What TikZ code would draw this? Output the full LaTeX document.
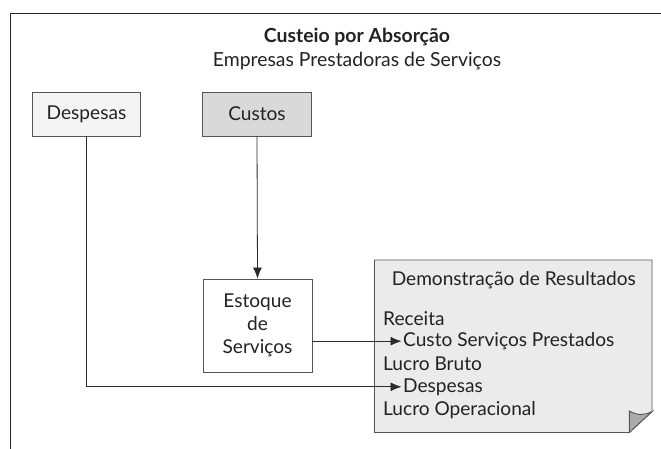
\documentclass[tikz,border=0pt]{standalone}
\usepackage{fontspec}
\setmainfont{Lato}
\usetikzlibrary{arrows.meta}
\definecolor{edge}{HTML}{555555}
\definecolor{lineC}{HTML}{2B2B2B}
\definecolor{lightF}{HTML}{F4F4F4}
\definecolor{custF}{HTML}{D9D9D9}
\definecolor{docF}{HTML}{EBEBEB}
\definecolor{foldF}{HTML}{AAAAAA}
\definecolor{txt}{HTML}{222222}
\newcommand{\dfont}{\fontsize{19.1}{23}\selectfont}
\newcommand{\tfont}{\fontsize{19.4}{23}\selectfont}
\tikzset{
  box/.style={draw=edge, line width=0.9pt, inner sep=0pt, align=center, text=txt, font=\dfont},
  doctext/.style={inner sep=0pt, anchor=base west, text=txt, font=\dfont},
  ttext/.style={inner sep=0pt, anchor=base, text=txt},
  conn/.style={draw=lineC, line width=0.8pt},
  arr/.style={conn, -{Latex[length=11pt,width=9pt]}},
}
\begin{document}
\begin{tikzpicture}[x=1pt,y=-1pt]
\useasboundingbox (0,0) rectangle (661,448);
% frame
\draw[line width=1.8pt, draw=black!85] (10.5,449) -- (10.5,13.5) -- (662,13.5);
% title
\node[ttext, font=\bfseries\tfont] (title) at (357,42.7) {Custeio por Absorção};
\node[ttext, font=\tfont] (subtitle) at (357,66.7) {Empresas Prestadoras de Serviços};
% boxes
\node[box, fill=lightF, minimum width=108pt, minimum height=44pt] (desp) at (86.5,114) {Despesas};
\node[box, fill=custF, minimum width=109pt, minimum height=44pt] (cust) at (257,114) {Custos};
\node[box, fill=white, minimum width=109pt, minimum height=93pt] (est) at (257.5,325.5) {Estoque\\de\\Serviços};
% document
\draw[draw=edge, line width=0.9pt, fill=docF] (374.5,260) -- (652,260) -- (652,411.5) -- (629.3,432.5) -- (374.5,432.5) -- cycle;
\draw[draw=edge, line width=0.9pt, fill=foldF] (629.3,432.5) -- (629.3,411) .. controls (637,415.5) and (645,415.5) .. (652,411.5) -- cycle;
\node[ttext, font=\dfont] (dtitle) at (513.8,285) {Demonstração de Resultados};
\node[doctext] (rec) at (383,325) {Receita};
\node[doctext] (csp) at (403,346.5) {Custo Serviços Prestados};
\node[doctext] (lb) at (383,370) {Lucro Bruto};
\node[doctext] (dsp) at (403,392) {Despesas};
\node[doctext] (lo) at (383,415) {Lucro Operacional};
% connectors
\draw[arr] (cust.south) -- (est.north);
\draw[arr] (est.east |- csp.west) -- ([xshift=-1.5pt]csp.west);
\draw[arr] (desp.south) |- ([xshift=-1.5pt]dsp.west);
\end{tikzpicture}
\end{document}
